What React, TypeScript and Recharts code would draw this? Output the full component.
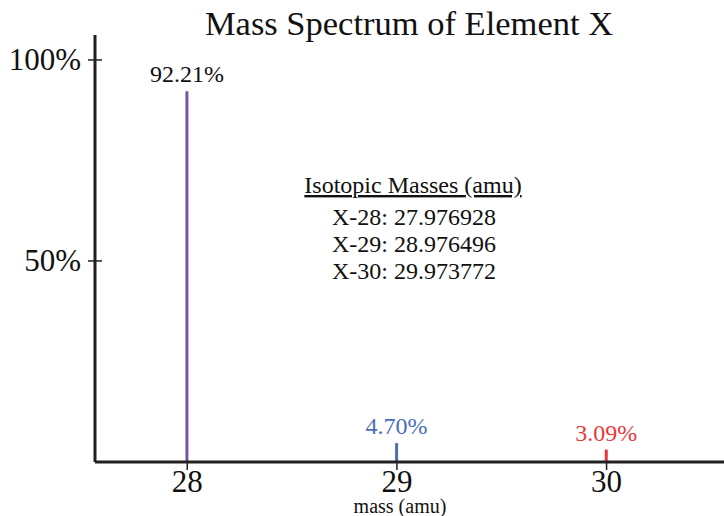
import React from "react";
import {
  BarChart,
  Bar,
  XAxis,
  YAxis,
  Cell,
  LabelList,
  Customized
} from "recharts";

// isotope data
const masses = [28, 29, 30];
const abundances = [92.21, 4.7, 3.09];
const abundanceLabels = ["92.21%", "4.70%", "3.09%"];
const isotopeNames = ["X-28", "X-29", "X-30"];
const isotopicMasses = ["27.976928", "28.976496", "29.973772"];
const xTicks = [28, 29, 30];
const yTicks = [50, 100];

const barColors = ["#7b55a0", "#4a6fb8", "#e8383d"];
const labelColors = ["#111111", "#4a6fb8", "#e8383d"];

const FONT = "'Liberation Serif', 'Times New Roman', serif";
const INK = "#231f20";

const data = masses.map((m, i) => ({
  mass: m,
  abundance: abundances[i],
  label: abundanceLabels[i]
}));

const YTick = (props: any) => {
  const { x, y, payload } = props;
  const ax = x + 14;
  return (
    <g>
      <line x1={ax - 7} x2={ax + 7} y1={y} y2={y} stroke={INK} strokeWidth={1.5} />
      <text
        x={x}
        y={y}
        textAnchor="end"
        dominantBaseline="central"
        fontFamily={FONT}
        fontSize={31}
        fill="#111"
      >
        {payload.value}%
      </text>
    </g>
  );
};

const BarLabel = (props: any) => {
  const { x, y, width, index, value } = props;
  return (
    <text
      x={x + width / 2}
      y={y - 9}
      textAnchor="middle"
      fontFamily={FONT}
      fontSize={24}
      fill={labelColors[index]}
    >
      {value}
    </text>
  );
};

const Annotations = () => (
  <g fontFamily={FONT} fill="#111" textAnchor="middle">
    <text x={409} y={35} fontSize={34.5}>
      Mass Spectrum of Element X
    </text>
    <text x={413} y={193} fontSize={24} textDecoration="underline">
      Isotopic Masses (amu)
    </text>
    {isotopeNames.map((n, i) => (
      <text key={n} x={414} y={225 + i * 27} fontSize={24}>
        {n}: {isotopicMasses[i]}
      </text>
    ))}
    <text x={400} y={513} fontSize={20}>
      mass (amu)
    </text>
  </g>
);

export default function App() {
  return (
    <div style={{ position: "absolute", left: 0, top: 0, background: "#fff" }}>
      <BarChart
        width={724}
        height={516}
        data={data}
        margin={{ top: 35, right: 0, bottom: 0, left: 0 }}
      >
        <XAxis
          dataKey="mass"
          type="number"
          domain={[27.56, 30.56]}
          ticks={xTicks}
          allowDataOverflow
          height={54}
          tickSize={8}
          tickMargin={0}
          axisLine={{ stroke: INK, strokeWidth: 3 }}
          tickLine={{ stroke: INK, strokeWidth: 1.5 }}
          tick={{ fontFamily: FONT, fontSize: 31, fill: "#111" }}
        />
        <YAxis
          type="number"
          domain={[0, 106.2]}
          ticks={yTicks}
          allowDataOverflow
          width={95}
          tickSize={0}
          tickMargin={14}
          axisLine={{ stroke: INK, strokeWidth: 3 }}
          tickLine={false}
          tick={<YTick />}
        />
        <Bar dataKey="abundance" barSize={3} isAnimationActive={false}>
          {data.map((d, i) => (
            <Cell key={d.mass} fill={barColors[i]} />
          ))}
          <LabelList dataKey="label" content={<BarLabel />} />
        </Bar>
        <Customized component={<Annotations />} />
      </BarChart>
    </div>
  );
}
